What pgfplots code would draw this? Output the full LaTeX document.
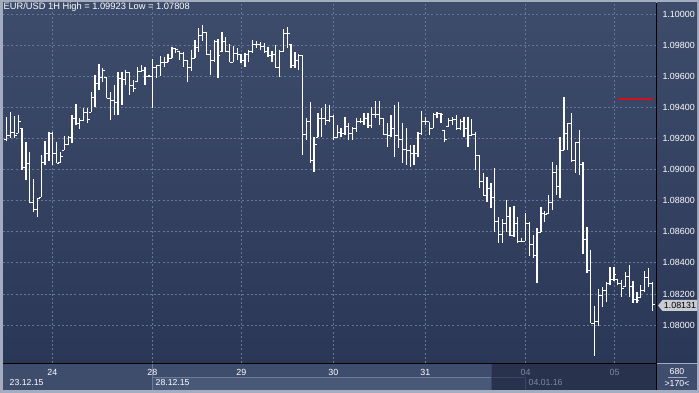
\documentclass[border=0pt]{standalone}
\usepackage{fontspec}
\setmainfont{Liberation Sans}
\usepackage{pgfplots}
\pgfplotsset{compat=1.18}
\usepackage{pgfplotstable}

\definecolor{bgtop}{HTML}{3E4C6B}
\definecolor{bgbot}{HTML}{2B3756}
\definecolor{framec}{HTML}{A3ADBF}
\definecolor{gridc}{HTML}{66759A}
\definecolor{rowbg}{HTML}{3E4D6C}
\definecolor{seg2}{HTML}{485879}
\definecolor{segline}{HTML}{6D7B9B}
\definecolor{selbg}{HTML}{28324C}
\definecolor{selline}{HTML}{3A4664}
\definecolor{dimtxt}{HTML}{7D879F}
\definecolor{cellbg}{HTML}{3F4E6E}
\definecolor{redline}{HTML}{D0101A}
\definecolor{boxc}{HTML}{C9CCD3}

\pgfdeclareplotmark{tickL}{\pgfpathmoveto{\pgfqpoint{-2.4pt}{0pt}}\pgfpathlineto{\pgfqpoint{0pt}{0pt}}\pgfusepathqstroke}
\pgfdeclareplotmark{tickR}{\pgfpathmoveto{\pgfqpoint{0pt}{0pt}}\pgfpathlineto{\pgfqpoint{2.4pt}{0pt}}\pgfusepathqstroke}

% hourly bars: index, open, high, low, close
\pgfplotstableread{
i O H L C
0 1.09190 1.09338 1.09184 1.09222
1 1.09222 1.09370 1.09203 1.09241
2 1.09241 1.09344 1.09203 1.09222
3 1.09235 1.09351 1.09235 1.09312
4 1.09267 1.09267 1.08997 1.09010
5 1.09010 1.09177 1.08933 1.09042
6 1.09042 1.09113 1.08785 1.08791
7 1.08791 1.08939 1.08727 1.08740
8 1.08740 1.08817 1.08695 1.08817
9 1.08823 1.09093 1.08823 1.09048
10 1.09048 1.09184 1.09029 1.09100
11 1.09100 1.09241 1.09055 1.09235
12 1.09235 1.09241 1.09029 1.09100
13 1.09100 1.09177 1.09042 1.09042
14 1.09048 1.09113 1.09048 1.09081
15 1.09125 1.09216 1.09125 1.09158
16 1.09158 1.09216 1.09158 1.09209
17 1.09209 1.09351 1.09171 1.09331
18 1.09331 1.09421 1.09286 1.09293
19 1.09293 1.09331 1.09261 1.09318
20 1.09318 1.09396 1.09318 1.09370
21 1.09370 1.09396 1.09299 1.09325
22 1.09370 1.09498 1.09370 1.09466
23 1.09466 1.09608 1.09402 1.09556
24 1.09556 1.09678 1.09511 1.09595
25 1.09595 1.09653 1.09563 1.09640
26 1.09595 1.09595 1.09460 1.09460
27 1.09460 1.09498 1.09318 1.09441
28 1.09441 1.09543 1.09351 1.09428
29 1.09428 1.09627 1.09351 1.09588
30 1.09588 1.09627 1.09415 1.09576
31 1.09576 1.09640 1.09543 1.09627
32 1.09621 1.09621 1.09479 1.09543
33 1.09543 1.09576 1.09498 1.09524
34 1.09563 1.09659 1.09563 1.09633
35 1.09633 1.09672 1.09627 1.09640
36 1.09640 1.09659 1.09543 1.09601
37 1.09601 1.09608 1.09595 1.09601
38 1.09601 1.09711 1.09396 1.09653
39 1.09653 1.09672 1.09588 1.09666
40 1.09666 1.09730 1.09601 1.09691
41 1.09691 1.09723 1.09659 1.09691
42 1.09691 1.09743 1.09691 1.09717
43 1.09717 1.09788 1.09717 1.09781
44 1.09781 1.09781 1.09749 1.09769
45 1.09756 1.09756 1.09704 1.09749
46 1.09749 1.09756 1.09659 1.09704
47 1.09704 1.09704 1.09563 1.09653
48 1.09653 1.09769 1.09633 1.09711
49 1.09717 1.09833 1.09717 1.09788
50 1.09788 1.09910 1.09756 1.09859
51 1.09859 1.09929 1.09826 1.09884
52 1.09884 1.09884 1.09736 1.09743
53 1.09743 1.09769 1.09608 1.09704
54 1.09704 1.09833 1.09691 1.09826
55 1.09826 1.09839 1.09588 1.09736
56 1.09756 1.09884 1.09756 1.09826
57 1.09826 1.09852 1.09756 1.09756
58 1.09756 1.09807 1.09691 1.09691
59 1.09691 1.09794 1.09691 1.09749
60 1.09749 1.09781 1.09704 1.09743
61 1.09743 1.09743 1.09685 1.09698
62 1.09698 1.09749 1.09659 1.09743
63 1.09743 1.09769 1.09691 1.09756
64 1.09756 1.09833 1.09749 1.09807
65 1.09807 1.09826 1.09781 1.09807
66 1.09807 1.09820 1.09769 1.09794
67 1.09794 1.09814 1.09749 1.09762
68 1.09762 1.09788 1.09723 1.09736
69 1.09736 1.09762 1.09691 1.09743
70 1.09743 1.09801 1.09653 1.09653
71 1.09653 1.09769 1.09595 1.09756
72 1.09756 1.09904 1.09756 1.09878
73 1.09878 1.09916 1.09781 1.09878
74 1.09807 1.09807 1.09653 1.09672
75 1.09672 1.09756 1.09653 1.09704
76 1.09704 1.09743 1.09640 1.09736
77 1.09736 1.09736 1.09093 1.09228
78 1.09228 1.09331 1.09190 1.09306
79 1.09306 1.09434 1.09042 1.09061
80 1.09061 1.09209 1.08984 1.09164
81 1.09209 1.09363 1.09209 1.09331
82 1.09331 1.09396 1.09209 1.09331
83 1.09331 1.09421 1.09286 1.09318
84 1.09318 1.09415 1.09306 1.09338
85 1.09338 1.09351 1.09190 1.09203
86 1.09203 1.09286 1.09203 1.09241
87 1.09241 1.09267 1.09209 1.09235
88 1.09235 1.09338 1.09222 1.09280
89 1.09280 1.09299 1.09190 1.09235
90 1.09235 1.09274 1.09190 1.09261
91 1.09261 1.09331 1.09241 1.09312
92 1.09312 1.09331 1.09299 1.09312
93 1.09312 1.09363 1.09286 1.09331
94 1.09331 1.09363 1.09267 1.09286
95 1.09286 1.09402 1.09267 1.09351
96 1.09351 1.09441 1.09331 1.09357
97 1.09357 1.09441 1.09286 1.09331
98 1.09331 1.09331 1.09222 1.09228
99 1.09228 1.09299 1.09145 1.09222
100 1.09222 1.09351 1.09209 1.09267
101 1.09267 1.09415 1.09081 1.09222
102 1.09222 1.09434 1.09138 1.09190
103 1.09190 1.09299 1.09042 1.09132
104 1.09132 1.09267 1.09029 1.09125
105 1.09125 1.09158 1.09016 1.09100
106 1.09100 1.09158 1.09029 1.09106
107 1.09106 1.09241 1.09081 1.09235
108 1.09235 1.09376 1.09222 1.09306
109 1.09306 1.09338 1.09286 1.09312
110 1.09306 1.09306 1.09222 1.09261
111 1.09267 1.09363 1.09267 1.09351
112 1.09351 1.09370 1.09331 1.09363
113 1.09363 1.09363 1.09299 1.09357
114 1.09254 1.09254 1.09177 1.09190
115 1.09274 1.09331 1.09274 1.09318
116 1.09318 1.09338 1.09286 1.09325
117 1.09325 1.09351 1.09254 1.09267
118 1.09267 1.09325 1.09254 1.09312
119 1.09312 1.09338 1.09209 1.09267
120 1.09267 1.09338 1.09145 1.09222
121 1.09222 1.09325 1.09222 1.09228
122 1.09228 1.09241 1.08997 1.09093
123 1.09093 1.09093 1.08881 1.08920
124 1.08920 1.08978 1.08830 1.08836
125 1.08836 1.08952 1.08791 1.08881
126 1.08881 1.08913 1.08753 1.08823
127 1.08823 1.09010 1.08598 1.08663
128 1.08663 1.08695 1.08527 1.08585
129 1.08585 1.08682 1.08527 1.08650
130 1.08650 1.08804 1.08598 1.08695
131 1.08695 1.08759 1.08572 1.08579
132 1.08579 1.08765 1.08566 1.08656
133 1.08656 1.08695 1.08527 1.08540
134 1.08540 1.08560 1.08540 1.08540
135 1.08540 1.08720 1.08540 1.08656
136 1.08656 1.08663 1.08444 1.08521
137 1.08521 1.08579 1.08431 1.08450
138 1.08450 1.08624 1.08270 1.08592
139 1.08598 1.08759 1.08598 1.08720
140 1.08720 1.08733 1.08663 1.08708
141 1.08720 1.08836 1.08720 1.08785
142 1.08785 1.09048 1.08740 1.08978
143 1.08978 1.09029 1.08836 1.08888
144 1.08888 1.09209 1.08817 1.09125
145 1.09125 1.09466 1.09125 1.09235
146 1.09235 1.09299 1.09125 1.09293
147 1.09293 1.09363 1.09048 1.09055
148 1.09055 1.09177 1.08978 1.09171
149 1.09171 1.09254 1.08965 1.09035
150 1.09035 1.09048 1.08457 1.08547
151 1.08547 1.08630 1.08335 1.08354
152 1.08354 1.08483 1.08013 1.08013
153 1.08013 1.08122 1.07801 1.08026
154 1.08026 1.08232 1.07994 1.08187
155 1.08187 1.08245 1.08116 1.08225
156 1.08225 1.08277 1.08148 1.08270
157 1.08270 1.08373 1.08257 1.08290
158 1.08290 1.08373 1.08283 1.08322
159 1.08290 1.08290 1.08257 1.08270
160 1.08270 1.08290 1.08180 1.08238
161 1.08245 1.08341 1.08245 1.08315
162 1.08315 1.08386 1.08180 1.08245
163 1.08245 1.08283 1.08142 1.08167
164 1.08167 1.08212 1.08142 1.08161
165 1.08180 1.08257 1.08180 1.08225
166 1.08225 1.08347 1.08212 1.08309
167 1.08309 1.08367 1.08245 1.08270
168 1.08270 1.08277 1.08090 1.08131
}\bars

% high-low segments of the same bars (high, low, break)
\pgfplotstableread{
x y
0 1.09338
0 1.09184
0 nan
1 1.09370
1 1.09203
1 nan
2 1.09344
2 1.09203
2 nan
3 1.09351
3 1.09235
3 nan
4 1.09267
4 1.08997
4 nan
5 1.09177
5 1.08933
5 nan
6 1.09113
6 1.08785
6 nan
7 1.08939
7 1.08727
7 nan
8 1.08817
8 1.08695
8 nan
9 1.09093
9 1.08823
9 nan
10 1.09184
10 1.09029
10 nan
11 1.09241
11 1.09055
11 nan
12 1.09241
12 1.09029
12 nan
13 1.09177
13 1.09042
13 nan
14 1.09113
14 1.09048
14 nan
15 1.09216
15 1.09125
15 nan
16 1.09216
16 1.09158
16 nan
17 1.09351
17 1.09171
17 nan
18 1.09421
18 1.09286
18 nan
19 1.09331
19 1.09261
19 nan
20 1.09396
20 1.09318
20 nan
21 1.09396
21 1.09299
21 nan
22 1.09498
22 1.09370
22 nan
23 1.09608
23 1.09402
23 nan
24 1.09678
24 1.09511
24 nan
25 1.09653
25 1.09563
25 nan
26 1.09595
26 1.09460
26 nan
27 1.09498
27 1.09318
27 nan
28 1.09543
28 1.09351
28 nan
29 1.09627
29 1.09351
29 nan
30 1.09627
30 1.09415
30 nan
31 1.09640
31 1.09543
31 nan
32 1.09621
32 1.09479
32 nan
33 1.09576
33 1.09498
33 nan
34 1.09659
34 1.09563
34 nan
35 1.09672
35 1.09627
35 nan
36 1.09659
36 1.09543
36 nan
37 1.09608
37 1.09595
37 nan
38 1.09711
38 1.09396
38 nan
39 1.09672
39 1.09588
39 nan
40 1.09730
40 1.09601
40 nan
41 1.09723
41 1.09659
41 nan
42 1.09743
42 1.09691
42 nan
43 1.09788
43 1.09717
43 nan
44 1.09781
44 1.09749
44 nan
45 1.09756
45 1.09704
45 nan
46 1.09756
46 1.09659
46 nan
47 1.09704
47 1.09563
47 nan
48 1.09769
48 1.09633
48 nan
49 1.09833
49 1.09717
49 nan
50 1.09910
50 1.09756
50 nan
51 1.09929
51 1.09826
51 nan
52 1.09884
52 1.09736
52 nan
53 1.09769
53 1.09608
53 nan
54 1.09833
54 1.09691
54 nan
55 1.09839
55 1.09588
55 nan
56 1.09884
56 1.09756
56 nan
57 1.09852
57 1.09756
57 nan
58 1.09807
58 1.09691
58 nan
59 1.09794
59 1.09691
59 nan
60 1.09781
60 1.09704
60 nan
61 1.09743
61 1.09685
61 nan
62 1.09749
62 1.09659
62 nan
63 1.09769
63 1.09691
63 nan
64 1.09833
64 1.09749
64 nan
65 1.09826
65 1.09781
65 nan
66 1.09820
66 1.09769
66 nan
67 1.09814
67 1.09749
67 nan
68 1.09788
68 1.09723
68 nan
69 1.09762
69 1.09691
69 nan
70 1.09801
70 1.09653
70 nan
71 1.09769
71 1.09595
71 nan
72 1.09904
72 1.09756
72 nan
73 1.09916
73 1.09781
73 nan
74 1.09807
74 1.09653
74 nan
75 1.09756
75 1.09653
75 nan
76 1.09743
76 1.09640
76 nan
77 1.09736
77 1.09093
77 nan
78 1.09331
78 1.09190
78 nan
79 1.09434
79 1.09042
79 nan
80 1.09209
80 1.08984
80 nan
81 1.09363
81 1.09209
81 nan
82 1.09396
82 1.09209
82 nan
83 1.09421
83 1.09286
83 nan
84 1.09415
84 1.09306
84 nan
85 1.09351
85 1.09190
85 nan
86 1.09286
86 1.09203
86 nan
87 1.09267
87 1.09209
87 nan
88 1.09338
88 1.09222
88 nan
89 1.09299
89 1.09190
89 nan
90 1.09274
90 1.09190
90 nan
91 1.09331
91 1.09241
91 nan
92 1.09331
92 1.09299
92 nan
93 1.09363
93 1.09286
93 nan
94 1.09363
94 1.09267
94 nan
95 1.09402
95 1.09267
95 nan
96 1.09441
96 1.09331
96 nan
97 1.09441
97 1.09286
97 nan
98 1.09331
98 1.09222
98 nan
99 1.09299
99 1.09145
99 nan
100 1.09351
100 1.09209
100 nan
101 1.09415
101 1.09081
101 nan
102 1.09434
102 1.09138
102 nan
103 1.09299
103 1.09042
103 nan
104 1.09267
104 1.09029
104 nan
105 1.09158
105 1.09016
105 nan
106 1.09158
106 1.09029
106 nan
107 1.09241
107 1.09081
107 nan
108 1.09376
108 1.09222
108 nan
109 1.09338
109 1.09286
109 nan
110 1.09306
110 1.09222
110 nan
111 1.09363
111 1.09267
111 nan
112 1.09370
112 1.09331
112 nan
113 1.09363
113 1.09299
113 nan
114 1.09254
114 1.09177
114 nan
115 1.09331
115 1.09274
115 nan
116 1.09338
116 1.09286
116 nan
117 1.09351
117 1.09254
117 nan
118 1.09325
118 1.09254
118 nan
119 1.09338
119 1.09209
119 nan
120 1.09338
120 1.09145
120 nan
121 1.09325
121 1.09222
121 nan
122 1.09241
122 1.08997
122 nan
123 1.09093
123 1.08881
123 nan
124 1.08978
124 1.08830
124 nan
125 1.08952
125 1.08791
125 nan
126 1.08913
126 1.08753
126 nan
127 1.09010
127 1.08598
127 nan
128 1.08695
128 1.08527
128 nan
129 1.08682
129 1.08527
129 nan
130 1.08804
130 1.08598
130 nan
131 1.08759
131 1.08572
131 nan
132 1.08765
132 1.08566
132 nan
133 1.08695
133 1.08527
133 nan
134 1.08560
134 1.08540
134 nan
135 1.08720
135 1.08540
135 nan
136 1.08663
136 1.08444
136 nan
137 1.08579
137 1.08431
137 nan
138 1.08624
138 1.08270
138 nan
139 1.08759
139 1.08598
139 nan
140 1.08733
140 1.08663
140 nan
141 1.08836
141 1.08720
141 nan
142 1.09048
142 1.08740
142 nan
143 1.09029
143 1.08836
143 nan
144 1.09209
144 1.08817
144 nan
145 1.09466
145 1.09125
145 nan
146 1.09299
146 1.09125
146 nan
147 1.09363
147 1.09048
147 nan
148 1.09177
148 1.08978
148 nan
149 1.09254
149 1.08965
149 nan
150 1.09048
150 1.08457
150 nan
151 1.08630
151 1.08335
151 nan
152 1.08483
152 1.08013
152 nan
153 1.08122
153 1.07801
153 nan
154 1.08232
154 1.07994
154 nan
155 1.08245
155 1.08116
155 nan
156 1.08277
156 1.08148
156 nan
157 1.08373
157 1.08257
157 nan
158 1.08373
158 1.08283
158 nan
159 1.08290
159 1.08257
159 nan
160 1.08290
160 1.08180
160 nan
161 1.08341
161 1.08245
161 nan
162 1.08386
162 1.08180
162 nan
163 1.08283
163 1.08142
163 nan
164 1.08212
164 1.08142
164 nan
165 1.08257
165 1.08180
165 nan
166 1.08347
166 1.08212
166 nan
167 1.08367
167 1.08245
167 nan
168 1.08277
168 1.08090
168 nan
}\hilo

\begin{document}
\begin{tikzpicture}[x=1pt,y=1pt,font=\fontsize{8.7}{10}\selectfont]
% frame and panels
\fill[framec] (0,0) rectangle (699,393);
\shade[top color=bgtop,bottom color=bgbot] (3,30) rectangle (656,390);
\shade[top color=bgtop,bottom color=bgbot] (657,30) rectangle (697,390);
\fill[rowbg] (3,3) rectangle (656,29);
\fill[seg2] (152,3) rectangle (491,16);
\draw[segline,line width=0.8pt] (152.3,3) -- (152.3,29);
\draw[segline,line width=0.8pt] (152.3,16) -- (491,16);
\fill[selbg] (491,3) rectangle (656,29);
\draw[selline,line width=0.8pt] (491.5,3) -- (491.5,29);
\draw[selline,line width=0.8pt] (491.5,16) -- (525,16);
\draw[selline,line width=0.8pt] (525.3,3) -- (525.3,16);
\fill[cellbg] (657,3) rectangle (697,29);

\begin{axis}[
  at={(3pt,30pt)}, anchor=south west,
  scale only axis, width=653pt, height=360pt,
  xmin=-0.963, xmax=168.96, ymin=1.07756, ymax=1.10071,
  clip=false,
  axis line style={draw=none},
  xtick={11.87,37.89,61.05,85.0,108.93,135.05,158.2},
  xticklabels={24,28,29,30,31,\textcolor{dimtxt}{04},\textcolor{dimtxt}{05}},
  ytick={1.080,1.082,1.084,1.086,1.088,1.090,1.092,1.094,1.096,1.098,1.100},
  yticklabel pos=right,
  major tick length=0pt,
  grid=major,
  major grid style={gridc, line width=0.7pt, dash pattern=on 2pt off 2.2pt},
  tick label style={text=white, font=\fontsize{8.9}{10}\selectfont},
  xticklabel style={anchor=center, yshift=-9.5pt},
  yticklabel style={anchor=west, xshift=3pt,
    /pgf/number format/.cd, fixed, fixed zerofill, precision=5, assume math mode=true},
  unbounded coords=jump,
]
\addplot[white, line width=1.3pt, mark=none] table[x=x, y=y] {\hilo};
\addplot[only marks, mark=tickL, mark options={white, line width=1pt, solid}] table[x=i, y=O] {\bars};
\addplot[only marks, mark=tickR, mark options={white, line width=1pt, solid}] table[x=i, y=C] {\bars};
\addplot[redline, line width=2.2pt] coordinates {(159.1,1.09453) (168.1,1.09453)};
\end{axis}

% black separators
\draw[black, line width=1.2pt] (656.4,3) -- (656.4,390);
\draw[black, line width=1.2pt] (3,29.4) -- (656,29.4);

% last price label (1.08131 at y = 87.5pt)
\fill[boxc] (658,87.5) -- (662.5,93) -- (697,93) -- (697,82) -- (662.5,82) -- cycle;
\node[text=black, inner sep=0pt, font=\fontsize{8.9}{10}\selectfont] at (680,87.5) {1.08131};

% texts
\node[anchor=west, text=white, inner sep=0pt, font=\fontsize{9.3}{10}\selectfont] at (3.5,385.5) {EUR/USD 1H High = 1.09923 Low = 1.07808};
\node[anchor=west, text=white, inner sep=0pt] at (9.5,10) {23.12.15};
\node[anchor=west, text=white, inner sep=0pt] at (155.5,10) {28.12.15};
\node[anchor=west, text=dimtxt, inner sep=0pt] at (528.5,10) {04.01.16};
\node[text=white, inner sep=0pt] at (677,21.5) {680};
\draw[framec, line width=0.7pt] (668,15.5) -- (687,15.5);
\node[text=white, inner sep=0pt] at (677,9.5) {>170<};

\pgfresetboundingbox
\useasboundingbox (0,0) rectangle (699,393);
\end{tikzpicture}
\end{document}
